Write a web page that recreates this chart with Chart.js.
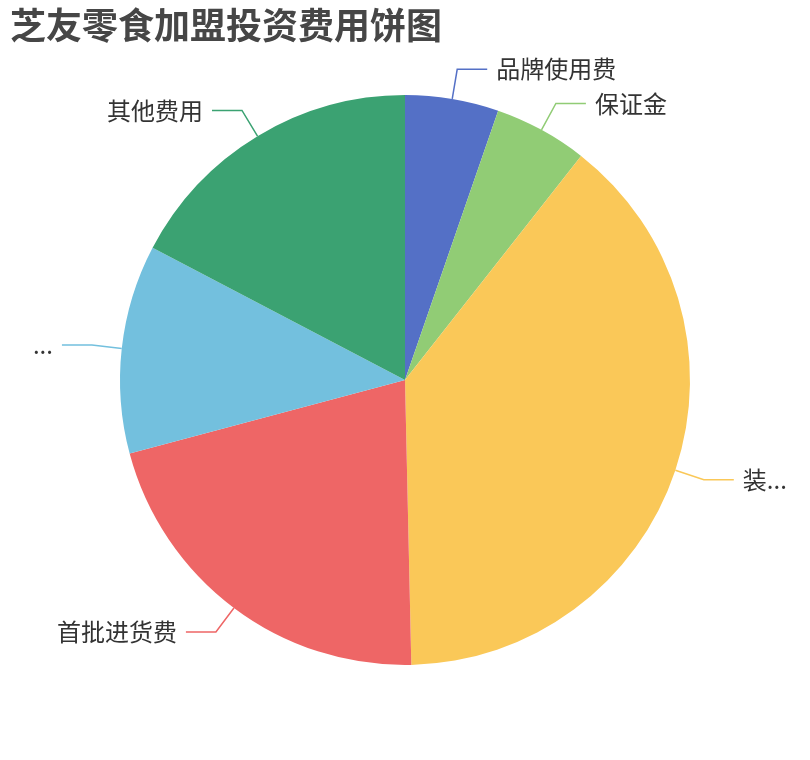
<!DOCTYPE html>
<html>
<head>
<meta charset="utf-8">
<script src="https://cdn.jsdelivr.net/npm/chart.js@4"></script>
<style>
    html, body { margin: 0; padding: 0; background: #fff; }
    #wrap { width: 810px; height: 760px; position: relative; }
</style>
</head>
<body>
<div id="wrap"><canvas id="pieChart"></canvas></div>
<script>
// data (万元, estimated)
const categories = ['品牌使用费', '保证金', '装...', '首批进货费', '...', '其他费用'];
const costValues = [1.5, 1.5, 11.05, 6, 3.35, 4.9];
const sliceColors = ['#5470c6', '#91cc75', '#fac858', '#ee6666', '#73c0de', '#3ba272'];
const chartTitle = '芝友零食加盟投资费用饼图';

const labelFont = '24px "Noto Sans CJK SC", "Noto Sans", sans-serif';

// draws title and the outside labels with leader lines, like echarts
const outsideLabels = {
    id: 'outsideLabels',
    afterDraw(chart) {
        const ctx = chart.ctx;
        ctx.save();

        ctx.fillStyle = '#464646';
        ctx.font = 'bold 36px "Noto Sans CJK SC", sans-serif';
        ctx.textAlign = 'left';
        ctx.textBaseline = 'middle';
        ctx.fillText(chartTitle, 10, 25);

        const meta = chart.getDatasetMeta(0);
        meta.data.forEach((arc, i) => {
            const p = arc.getProps(['x', 'y', 'startAngle', 'endAngle', 'outerRadius'], true);
            const mid = (p.startAngle + p.endAngle) / 2;
            const dx = Math.cos(mid), dy = Math.sin(mid);
            const x0 = p.x + p.outerRadius * dx, y0 = p.y + p.outerRadius * dy;
            const x1 = p.x + (p.outerRadius + 30) * dx, y1 = p.y + (p.outerRadius + 30) * dy;
            const right = dx >= 0;
            const x2 = x1 + (right ? 30 : -30);

            ctx.strokeStyle = sliceColors[i];
            ctx.lineWidth = 1.5;
            ctx.beginPath();
            ctx.moveTo(x0, y0);
            ctx.lineTo(x1, y1);
            ctx.lineTo(x2, y1);
            ctx.stroke();

            ctx.fillStyle = '#333';
            ctx.font = labelFont;
            ctx.textAlign = right ? 'left' : 'right';
            ctx.textBaseline = 'middle';
            ctx.fillText(categories[i], x2 + (right ? 9 : -9), y1);
        });
        ctx.restore();
    }
};

const ctx = document.getElementById('pieChart').getContext('2d');
new Chart(ctx, {
    type: 'pie',
    data: {
        labels: categories,
        datasets: [{
            data: costValues,
            backgroundColor: sliceColors,
            borderWidth: 0
        }]
    },
    options: {
        responsive: true,
        maintainAspectRatio: false,
        animation: false,
        events: [],
        layout: {
            padding: { left: 120, right: 120, top: 95, bottom: 95 }
        },
        plugins: {
            legend: { display: false },
            tooltip: { enabled: false },
            title: { display: false }
        }
    },
    plugins: [outsideLabels]
});
</script>
</body>
</html>
